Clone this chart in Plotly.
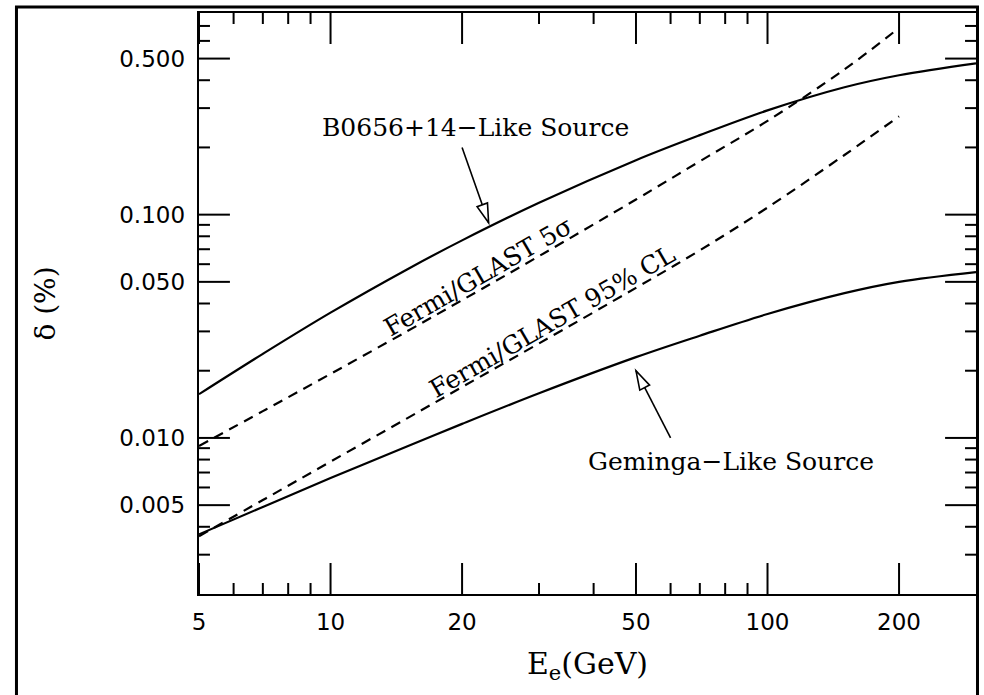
import math
import plotly.graph_objects as go

# Electron energy grid (GeV) and anisotropy curves delta (%)
energy = [5, 7, 10, 15, 20, 30, 50, 70, 100, 150, 200, 300]
b0656_like = [0.0157, 0.0238, 0.0364, 0.0570, 0.0767, 0.113, 0.1754, 0.227, 0.293, 0.372, 0.421, 0.476]
geminga_like = [0.0037, 0.00491, 0.00661, 0.00918, 0.01156, 0.01585, 0.0230, 0.0287, 0.0359, 0.0445, 0.0500, 0.0553]

energy_fermi = [5, 7, 10, 15, 20, 30, 50, 70, 100, 150, 200]
fermi_5sigma = [0.0092, 0.01318, 0.01935, 0.0301, 0.0414, 0.0652, 0.1169, 0.1734, 0.263, 0.447, 0.686]
fermi_95cl = [0.00363, 0.00527, 0.00783, 0.01227, 0.0169, 0.0265, 0.047, 0.0692, 0.1076, 0.185, 0.2757]

# Axis ticks
x_major = [5, 10, 20, 50, 100, 200]
x_minor = [6, 7, 8, 9, 30, 40, 60, 70, 80, 90]
y_major = [0.005, 0.01, 0.05, 0.1, 0.5]
y_major_text = ["0.005", "0.010", "0.050", "0.100", "0.500"]
y_minor = [0.003, 0.004, 0.006, 0.007, 0.008, 0.009, 0.02, 0.03, 0.04,
           0.06, 0.07, 0.08, 0.09, 0.2, 0.3, 0.4, 0.6, 0.7]

x_range = [5, 300]
y_range = [0.002, 0.8]

W, H = 984, 695
M = dict(l=199, r=6, t=13, b=101)
plot_w = W - M["l"] - M["r"]
plot_h = H - M["t"] - M["b"]
L10 = math.log10
kx = plot_w / (L10(x_range[1]) - L10(x_range[0]))   # px per decade
ky = plot_h / (L10(y_range[1]) - L10(y_range[0]))

serif = "DejaVu Serif"
sans = "DejaVu Sans"
MAJOR_LEN, MINOR_LEN, TICK_W = 31, 11, 2

fig = go.Figure()
line_w = 2.2
fig.add_trace(go.Scatter(x=energy, y=b0656_like, mode="lines", line=dict(color="black", width=line_w, shape="spline")))
fig.add_trace(go.Scatter(x=energy, y=geminga_like, mode="lines", line=dict(color="black", width=line_w, shape="spline")))
fig.add_trace(go.Scatter(x=energy_fermi, y=fermi_5sigma, mode="lines",
                         line=dict(color="black", width=line_w, dash="10px,7px", shape="spline")))
fig.add_trace(go.Scatter(x=energy_fermi, y=fermi_95cl, mode="lines",
                         line=dict(color="black", width=line_w, dash="10px,7px", shape="spline")))

# Labels
labels = [
    ("B0656+14\u2212Like Source", 21.5, 0.246, 0),
    ("Geminga\u2212Like Source", 82.4, 0.00783, 0),
    ("Fermi/GLAST 5\u03c3", 21.8, 0.0528, -30),
    ("Fermi/GLAST 95% CL", 32.2, 0.0332, -30),
]
for text, ex, dv, ang in labels:
    fig.add_annotation(x=L10(ex), y=L10(dv), xref="x", yref="y", text=text, showarrow=False,
                       textangle=ang, font=dict(family=serif, size=25, color="black"))

# Pointer arrows with open triangular heads
arrows = [((20, 0.2), (23, 0.092)), ((60, 0.01), (50, 0.02))]
head_len, head_half = 19, 5.5
for tail, tip in arrows:
    fig.add_shape(type="line", xref="x", yref="y", x0=tail[0], y0=tail[1], x1=tip[0], y1=tip[1],
                  line=dict(color="black", width=1.6))
    dx = (L10(tip[0]) - L10(tail[0])) * kx
    dy = (L10(tip[1]) - L10(tail[1])) * ky
    n = math.hypot(dx, dy)
    ux, uy = dx / n, dy / n
    bx, by = -ux * head_len, -uy * head_len
    qx, qy = -uy * head_half, ux * head_half
    path = f"M0,0 L{bx + qx:.2f},{by + qy:.2f} L{bx - qx:.2f},{by - qy:.2f} Z"
    fig.add_shape(type="path", xref="x", yref="y", xsizemode="pixel", ysizemode="pixel",
                  xanchor=tip[0], yanchor=tip[1], path=path,
                  line=dict(color="black", width=1.6), fillcolor="white")

# Inward tick marks on all four sides of the frame (lengths converted to log-axis factors)
tick_line = dict(color="black", width=TICK_W)
for vals, length in ((x_major, MAJOR_LEN), (x_minor, MINOR_LEN)):
    f = 10 ** (length / ky)
    for v in vals:
        fig.add_shape(type="line", xref="x", yref="y", x0=v, x1=v,
                      y0=y_range[0], y1=y_range[0] * f, line=tick_line, layer="above")
        fig.add_shape(type="line", xref="x", yref="y", x0=v, x1=v,
                      y0=y_range[1], y1=y_range[1] / f, line=tick_line, layer="above")
for vals, length in ((y_major, MAJOR_LEN), (y_minor, MINOR_LEN)):
    f = 10 ** (length / kx)
    for v in vals:
        fig.add_shape(type="line", xref="x", yref="y", y0=v, y1=v,
                      x0=x_range[0], x1=x_range[0] * f, line=tick_line, layer="above")
        fig.add_shape(type="line", xref="x", yref="y", y0=v, y1=v,
                      x0=x_range[1], x1=x_range[1] / f, line=tick_line, layer="above")

# Outer frame
fig.add_shape(type="rect", xref="paper", yref="paper",
              x0=(16 - M["l"]) / plot_w, x1=(979.5 - M["l"]) / plot_w,
              y0=(plot_h + M["t"] - 720) / plot_h, y1=(plot_h + M["t"] - 7) / plot_h,
              line=dict(color="black", width=3), fillcolor="rgba(0,0,0,0)", layer="above")

axis_common = dict(type="log", showline=True, linecolor="black", linewidth=2, mirror=True,
                   ticks="", showgrid=False, zeroline=False,
                   tickfont=dict(family=sans, size=23, color="black"))

fig.update_layout(
    xaxis=dict(range=[L10(x_range[0]), L10(x_range[1])], tickmode="array", tickvals=x_major,
               ticktext=[str(v) for v in x_major], ticklabelstandoff=6,
               title=dict(text="E<sub>e</sub>(GeV)", font=dict(family=serif, size=30, color="black"),
                          standoff=19),
               **axis_common),
    yaxis=dict(range=[L10(y_range[0]), L10(y_range[1])], tickmode="array", tickvals=y_major,
               ticktext=[t + "\u00a0" for t in y_major_text],
               title=dict(text="\u03b4 (%)", font=dict(family=serif, size=28, color="black"),
                          standoff=55),
               **axis_common),
    width=W, height=H, margin=M, showlegend=False,
    paper_bgcolor="white", plot_bgcolor="white",
)

fig.write_html("out.html")
